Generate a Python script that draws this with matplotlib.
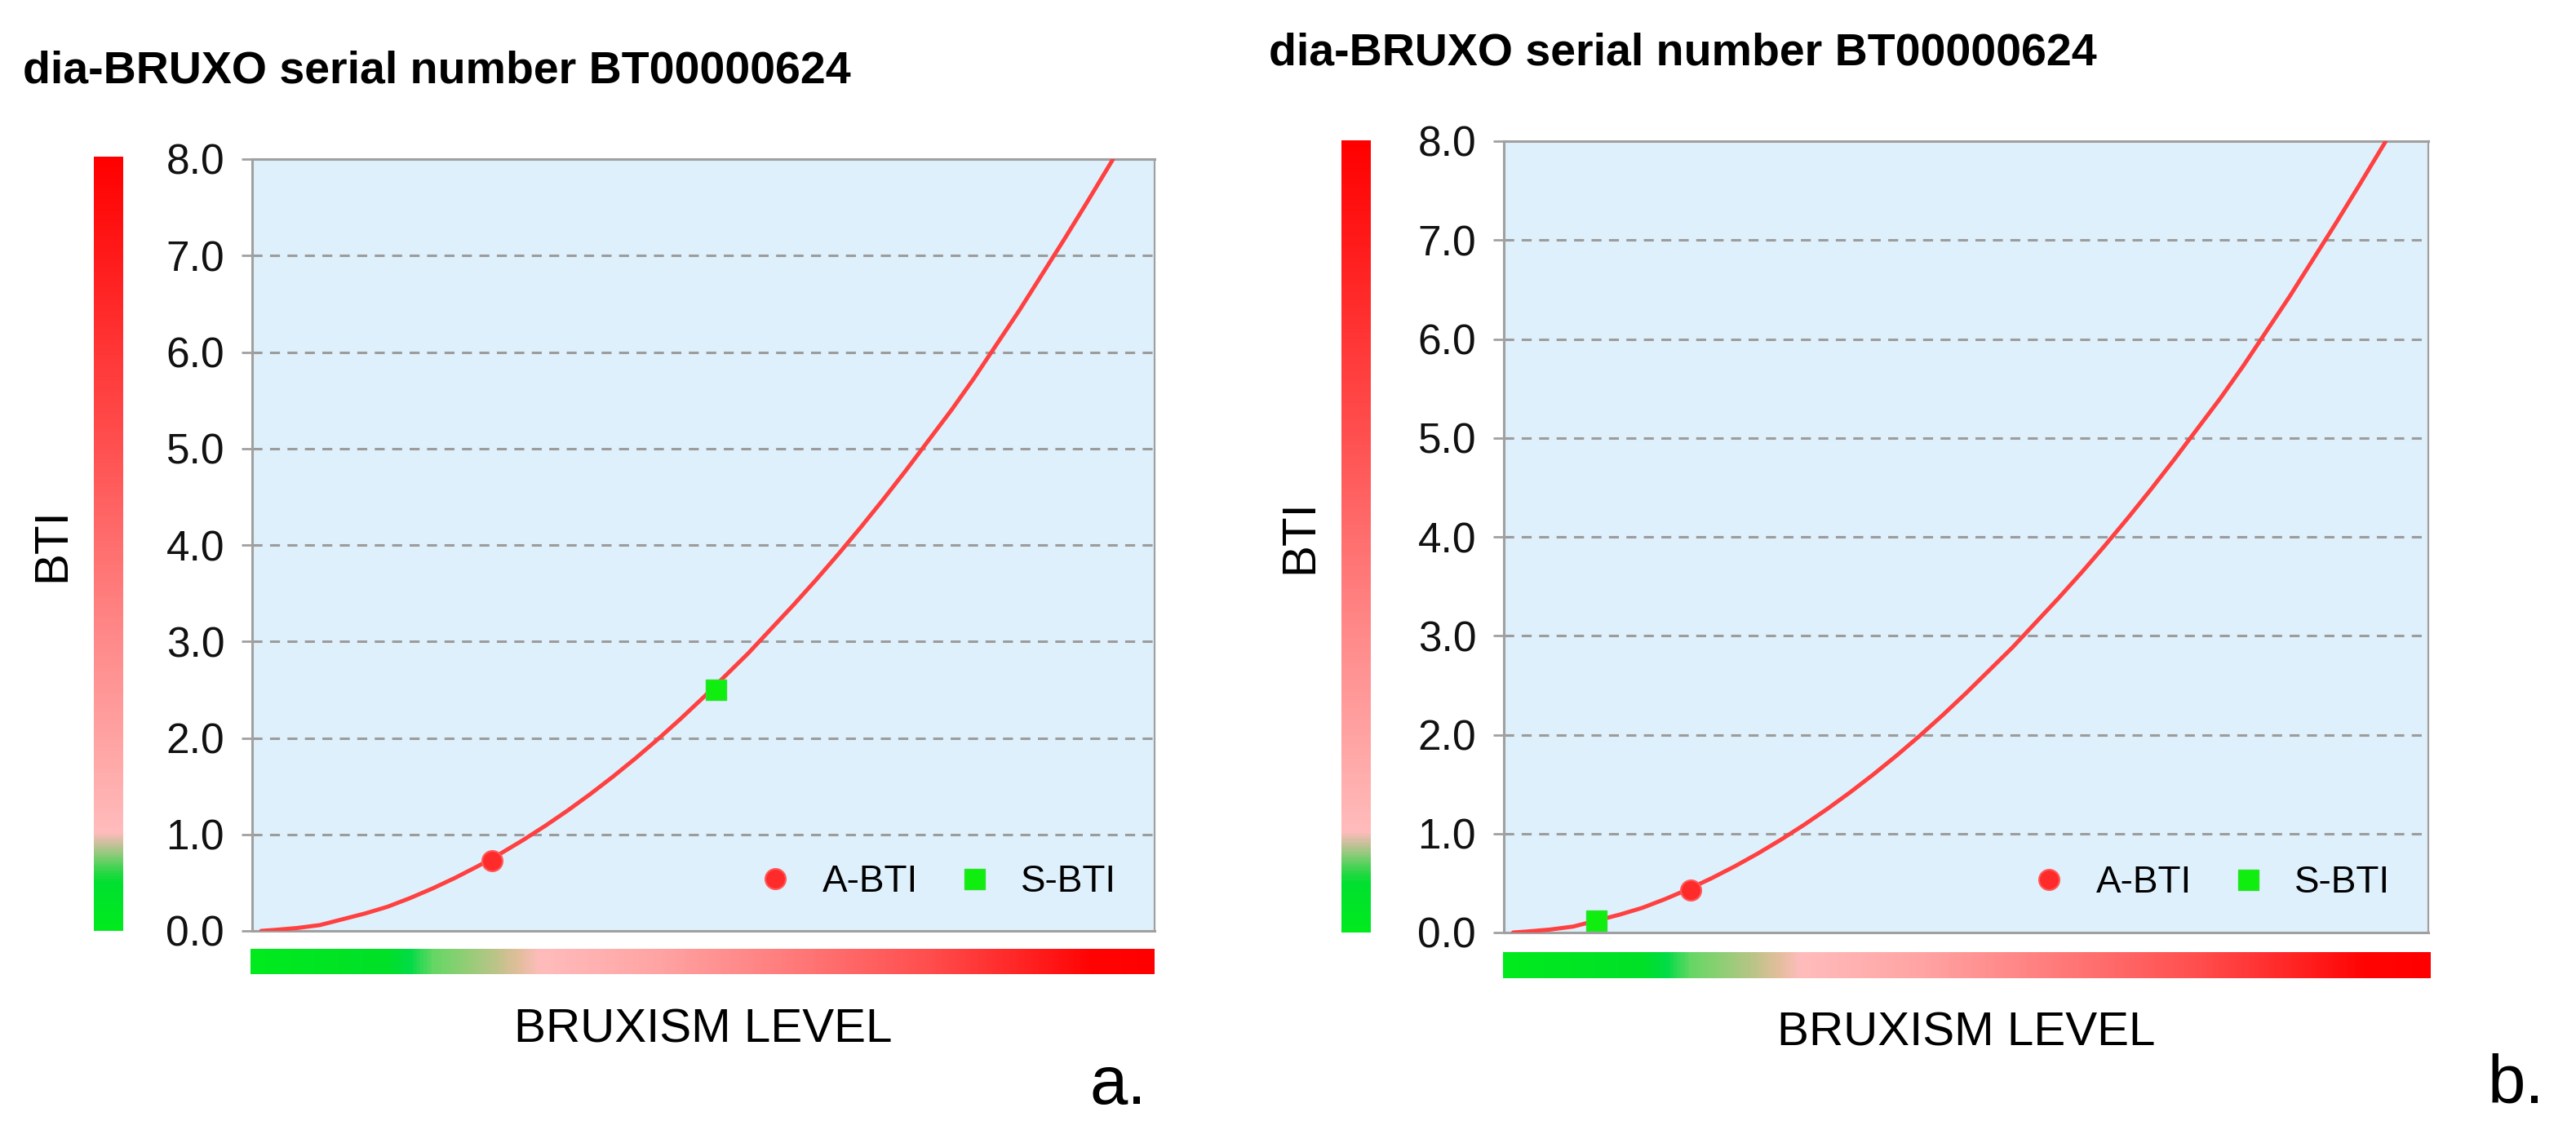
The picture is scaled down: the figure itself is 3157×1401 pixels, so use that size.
import numpy as np
import matplotlib
matplotlib.use("Agg")
import matplotlib.pyplot as plt
from matplotlib.colors import LinearSegmentedColormap

plt.rcParams['font.family'] = ['Liberation Sans', 'DejaVu Sans']

# ---------------- data ----------------
title_text = "dia-BRUXO serial number BT00000624"
panel_labels = ["a.", "b."]
y_ticks = [0, 1, 2, 3, 4, 5, 6, 7, 8]

# BTI curve vs bruxism level (same curve in both panels)
curve_level = [1.0, 2.5, 5, 7.5, 10, 12.5, 15, 17.5, 20, 22.5, 25, 27.5, 30, 32.5,
               35, 37.5, 40, 42.5, 45, 47.5, 50, 52.5, 55, 57.5, 60, 62.5, 65, 67.5,
               70, 72.5, 75, 77.5, 80, 82.5, 85, 87.5, 90, 92.5, 95.4]
curve_bti = [0.00, 0.01, 0.03, 0.06, 0.12, 0.18, 0.25, 0.34, 0.44, 0.55, 0.67, 0.80, 0.94, 1.09,
             1.25, 1.42, 1.60, 1.79, 1.99, 2.20, 2.42, 2.65, 2.88, 3.13, 3.38, 3.64, 3.91, 4.19,
             4.48, 4.78, 5.09, 5.40, 5.73, 6.08, 6.43, 6.80, 7.17, 7.55, 8.00]

series_names = ["A-BTI", "S-BTI"]
# panel a
a_level = [26.6, 51.4]
a_bti = [0.73, 2.50]
# panel b
b_level = [20.2, 10.0]
b_bti = [0.43, 0.12]

# ---------------- styles ----------------
W, H = 3157, 1401
DPI = 100
fig = plt.figure(figsize=(W / DPI, H / DPI), dpi=DPI)

def fr(x0, y0, x1, y1):
    """pixel box (top-left origin) -> figure fraction rect"""
    return [x0 / W, 1 - y1 / H, (x1 - x0) / W, (y1 - y0) / H]

horiz_cmap = LinearSegmentedColormap.from_list("lvl", [
    (0.00, "#00eb1e"), (0.15, "#00e028"), (0.175, "#00dc46"), (0.20, "#64d764"),
    (0.24, "#96cd78"), (0.27, "#bcc488"), (0.295, "#e1be9b"), (0.32, "#ffbcbc"),
    (0.45, "#ffa4a4"), (0.60, "#ff7a7a"), (0.75, "#ff4e4e"), (0.86, "#ff2222"),
    (0.93, "#ff0404"), (1.00, "#ff0000")])
vert_cmap = LinearSegmentedColormap.from_list("bti", [
    (0.00, "#00eb1e"), (0.06, "#00e030"), (0.075, "#30d648"), (0.095, "#88cc77"),
    (0.11, "#c8c09a"), (0.125, "#ffbcbc"), (0.25, "#ffa2a2"), (0.375, "#ff8a8a"),
    (0.50, "#ff6e6e"), (0.625, "#ff5050"), (0.75, "#ff3636"), (0.875, "#ff1a1a"),
    (1.00, "#ff0000")])

BG = "#def0fb"
GRID = "#9c9c9c"
SPINE = "#a0a0a0"
CURVE = "#ff4040"

panels = [
    dict(ax=(309, 195, 1415, 1141), vbar=(115, 192, 151, 1141), hbar=(307, 1163, 1415, 1194),
         title=(28, 102), label_xy=(1405, 1353), xl_y=1277, yl_x=64,
         level=a_level, bti=a_bti, legend_x=1368, legend_y=1081),
    dict(ax=(1843, 173, 2976, 1143), vbar=(1644, 172, 1680, 1143), hbar=(1842, 1167, 2979, 1199),
         title=(1555, 80), label_xy=(3118, 1352), xl_y=1281, yl_x=1593,
         level=b_level, bti=b_bti, legend_x=2929, legend_y=1082),
]

for i, p in enumerate(panels):
    x0, y0, x1, y1 = p["ax"]
    ax = fig.add_axes(fr(x0, y0, x1, y1))
    ax.set_facecolor(BG)
    ax.set_xlim(0, 100)
    ax.set_ylim(0, 8)
    ax.set_yticks(y_ticks)
    ax.set_yticklabels([f"{v:.1f}" for v in y_ticks])
    ax.set_xticks([])
    ax.tick_params(axis='y', length=9.4, width=2.0, color=SPINE, pad=15, labelsize=37,
                   labelcolor="#111111")
    for s in ax.spines.values():
        s.set_color(SPINE)
        s.set_linewidth(2.2)
    ax.spines['right'].set_linewidth(1.6)
    for v in y_ticks[1:-1]:
        ax.axhline(v, color=GRID, lw=2.2, linestyle=(0, (4, 3)), zorder=1)

    ax.plot(curve_level, curve_bti, color=CURVE, lw=3.6, zorder=3,
            solid_capstyle='round', solid_joinstyle='round')
    ax.plot(p["level"][0], p["bti"][0], linestyle='none', marker='o', markersize=18,
            markerfacecolor="#ff2a2a", markeredgecolor="#ff5a5a", markeredgewidth=1.5,
            label=series_names[0], zorder=4)
    ax.plot(p["level"][1], p["bti"][1], linestyle='none', marker='s', markersize=18,
            markerfacecolor="#10ee10", markeredgecolor="#30e030", markeredgewidth=1.0,
            label=series_names[1], zorder=4)

    ax.legend(loc='center right',
              bbox_to_anchor=((p["legend_x"] - x0) / (x1 - x0), (y1 - p["legend_y"]) / (y1 - y0)),
              ncol=2, frameon=False, fontsize=33, handlelength=0.6, handletextpad=0.95,
              columnspacing=1.2, borderpad=0, borderaxespad=0)

    ax.set_xlabel("BRUXISM LEVEL", fontsize=42, va='baseline')
    ax.xaxis.set_label_coords(0.5, (y1 - p["xl_y"]) / (y1 - y0))
    ax.set_ylabel("BTI", fontsize=42, va='center')
    ax.yaxis.set_label_coords((p["yl_x"] - x0) / (x1 - x0), 0.5)

    # vertical BTI colour scale
    vx0, vy0, vx1, vy1 = p["vbar"]
    vax = fig.add_axes(fr(vx0, vy0, vx1, vy1))
    vax.imshow(np.linspace(0, 1, 600).reshape(-1, 1), aspect='auto', cmap=vert_cmap,
               origin='lower', extent=[0, 1, 0, 1], interpolation='bilinear')
    vax.set_axis_off()

    # horizontal level colour scale
    hx0, hy0, hx1, hy1 = p["hbar"]
    hax = fig.add_axes(fr(hx0, hy0, hx1, hy1))
    hax.imshow(np.linspace(0, 1, 800).reshape(1, -1), aspect='auto', cmap=horiz_cmap,
               origin='lower', extent=[0, 1, 0, 1], interpolation='bilinear')
    hax.set_axis_off()

    tx, ty = p["title"]
    fig.text(tx / W, 1 - ty / H, title_text, fontsize=40, fontweight='bold',
             ha='left', va='baseline', color='black')

    lx, ly = p["label_xy"]
    fig.text(lx / W, 1 - ly / H, panel_labels[i], fontsize=60,
             family=['Liberation Sans Narrow', 'Liberation Sans', 'DejaVu Sans'],
             ha='right', va='baseline', color='black')

fig.savefig("out.png", dpi=DPI, facecolor='white')
